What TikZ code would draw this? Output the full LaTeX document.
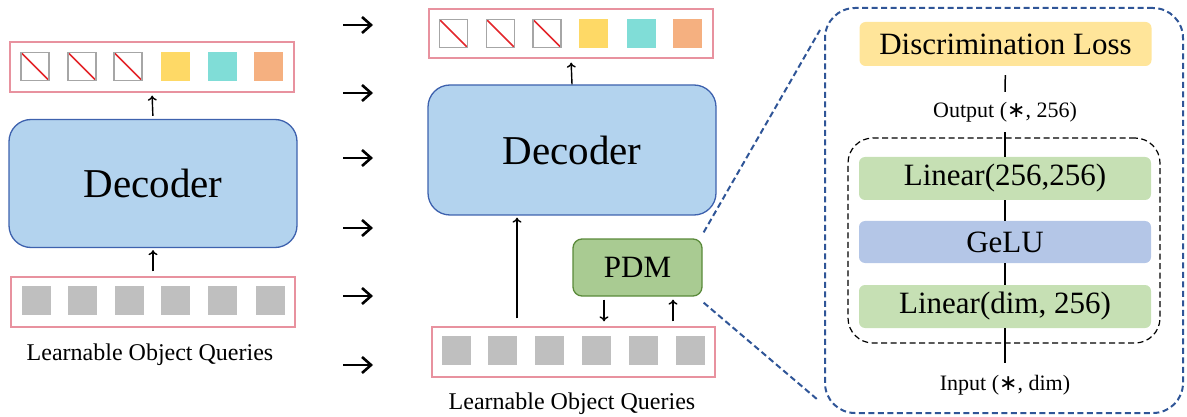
\documentclass[tikz,border=0pt]{standalone}
\usepackage{fontspec}
\setmainfont{Liberation Serif}
\newfontfamily\symfont{DejaVu Sans}
\usetikzlibrary{arrows.meta,calc}

\definecolor{rowpink}{HTML}{E8929F}
\definecolor{cellgray}{HTML}{BFBFBF}
\definecolor{maskgray}{HTML}{A6A6A6}
\definecolor{maskred}{HTML}{E3262B}
\definecolor{qyellow}{HTML}{FED966}
\definecolor{qteal}{HTML}{80DDD7}
\definecolor{qorange}{HTML}{F5B080}
\definecolor{decfill}{HTML}{B3D3EE}
\definecolor{decblue}{HTML}{3E62AE}
\definecolor{pdmfill}{HTML}{A9CB92}
\definecolor{pdmedge}{HTML}{5A8A3A}
\definecolor{lossfill}{HTML}{FFE59A}
\definecolor{linfill}{HTML}{C6E0B4}
\definecolor{gelufill}{HTML}{B4C6E7}
\definecolor{panelblue}{HTML}{2F5597}

% the "any size" star used in the tensor shapes
\newcommand{\anydim}{{\symfont ∗}}

\begin{document}
\begin{tikzpicture}[x=1pt,y=-1pt,
  qrow/.style={draw=rowpink, line width=1.3pt, minimum width=284pt, minimum height=50pt, inner sep=0pt},
  cell/.style={minimum width=29pt, minimum height=29pt, inner sep=0pt},
  blank/.style={cell, fill=cellgray},
  masked/.style={cell, draw=maskgray, line width=1.2pt, minimum width=28pt, minimum height=28pt,
    path picture={\draw[maskred, line width=1.5pt] (path picture bounding box.north west) -- (path picture bounding box.south east);}},
  decoder/.style={draw=decblue, fill=decfill, rounded corners=22pt, line width=1.3pt,
    minimum width=288pt, minimum height=128pt, inner sep=0pt, font=\fontsize{41}{48}\selectfont},
  layer/.style={rounded corners=6pt, minimum width=292pt, minimum height=43pt, inner sep=0pt,
    font=\fontsize{31}{36}\selectfont},
  caption/.style={inner sep=0pt, font=\fontsize{24}{28}\selectfont},
  shape lbl/.style={inner sep=0pt, font=\fontsize{22}{26}\selectfont},
  flow/.style={-{To[length=5pt,width=9pt]}, line width=1.4pt},
  hop/.style={-{Straight Barb[length=9pt,width=16pt,line width=2.6pt]}, line width=2.6pt},
  wire/.style={line width=1.5pt},
  zoomline/.style={draw=panelblue, line width=2pt, dash pattern=on 6pt off 3.5pt}
]
\useasboundingbox (0,0) rectangle (1187,417);

% ---------- left: plain decoder ----------
\node[qrow] (outL) at (152,67) {};
\node[masked] (oL1) at (35,66.5) {};
\node[masked] (oL2) at (82,66.5) {};
\node[masked] (oL3) at (128,66.5) {};
\node[cell, fill=qyellow] (oL4) at (175.5,66.5) {};
\node[cell, fill=qteal] (oL5) at (222.5,66.5) {};
\node[cell, fill=qorange] (oL6) at (268.5,66.5) {};

\node[decoder] (decL) at (153,183.5) {Decoder};

\node[qrow] (inL) at (153,302) {};
\foreach \x [count=\i] in {36.5,82.5,129.5,175.5,222.5,270}
  \node[blank] (iL\i) at (\x,300.5) {};
\node[caption] (capL) at (150,355) {Learnable Object Queries};

\draw[flow, shorten <=5pt, shorten >=2pt] (inL.north) -- (decL.south);
\draw[flow, shorten <=3pt, shorten >=3pt] (decL.north) -- (outL.south);

% ---------- column of arrows ----------
\foreach \y [count=\i] in {25,93,158,228,296,365} {
  \coordinate (h\i a) at (343,\y);
  \coordinate (h\i b) at (373,\y);
  \draw[hop] (h\i a) -- (h\i b);
}

% ---------- middle: decoder with PDM ----------
\node[qrow, minimum height=49pt] (outM) at (571,33.5) {};
\node[masked] (oM1) at (453.5,33.5) {};
\node[masked] (oM2) at (500.5,33.5) {};
\node[masked] (oM3) at (547,33.5) {};
\node[cell, fill=qyellow] (oM4) at (593.5,33.5) {};
\node[cell, fill=qteal] (oM5) at (641.5,33.5) {};
\node[cell, fill=qorange] (oM6) at (687,33.5) {};

\node[decoder, minimum height=130pt] (decM) at (572,150) {Decoder};

\node[draw=pdmedge, fill=pdmfill, line width=1.3pt, rounded corners=9pt,
  minimum width=129pt, minimum height=57pt, inner sep=0pt,
  font=\fontsize{31}{36}\selectfont] (pdm) at (637.5,267.5) {PDM};

\node[qrow, minimum width=283pt] (inM) at (573.5,352) {};
\foreach \x [count=\i] in {456.5,502,549.5,596.5,643,690.5}
  \node[blank] (iM\i) at (\x,350.5) {};
\node[caption] (capM) at (572,404) {Learnable Object Queries};

\draw[flow, shorten <=8pt, shorten >=2pt] (517,0 |- inM.north) -- (517,0 |- decM.south);
\draw[flow, shorten >=4pt] (decM.north) -- (outM.south);
\draw[flow, shorten <=3pt, shorten >=5pt] (604,0 |- pdm.south) -- (604,0 |- inM.north);
\draw[flow, shorten <=5pt, shorten >=3pt] (673,0 |- inM.north) -- (673,0 |- pdm.south);

% ---------- right: inside the PDM ----------
\node[zoomline, rounded corners=30pt, minimum width=358pt, minimum height=405pt, inner sep=0pt]
  (panel) at (1004,210.5) {};
\coordinate (zTop) at (820,30);
\coordinate (zBot) at (818,400);
\draw[zoomline] ($(pdm.north east)+(1,-6)$) -- (zTop);
\draw[zoomline] ($(pdm.south east)+(1,6)$) -- (zBot);

\node[draw=black, line width=1.2pt, dash pattern=on 6pt off 3.5pt, rounded corners=25pt,
  minimum width=312pt, minimum height=205pt, inner sep=0pt] (mlp) at (1004,240.5) {};

\node[layer, fill=lossfill, minimum height=44pt] (loss) at (1005.5,44) {Discrimination Loss};
\node[shape lbl, minimum height=40pt] (outlbl) at (1005,112) {Output (\anydim, 256)};
\node[layer, fill=linfill] (lin1) at (1005,178.5) {Linear(256,256)};
\node[layer, fill=gelufill, minimum height=42pt] (gelu) at (1005,242) {GeLU};
\node[layer, fill=linfill] (lin2) at (1005,306.5) {Linear(dim, 256)};
\node[shape lbl, minimum height=44pt] (inlbl) at (1005,385) {Input (\anydim, dim)};

\draw[wire, shorten <=9pt] (loss.south) -- (outlbl.north);
\draw[wire] (outlbl.south) -- (lin1.north);
\draw[wire] (lin1.south) -- (gelu.north);
\draw[wire] (gelu.south) -- (lin2.north);
\draw[wire] (lin2.south) -- (inlbl.north);
\end{tikzpicture}
\end{document}
